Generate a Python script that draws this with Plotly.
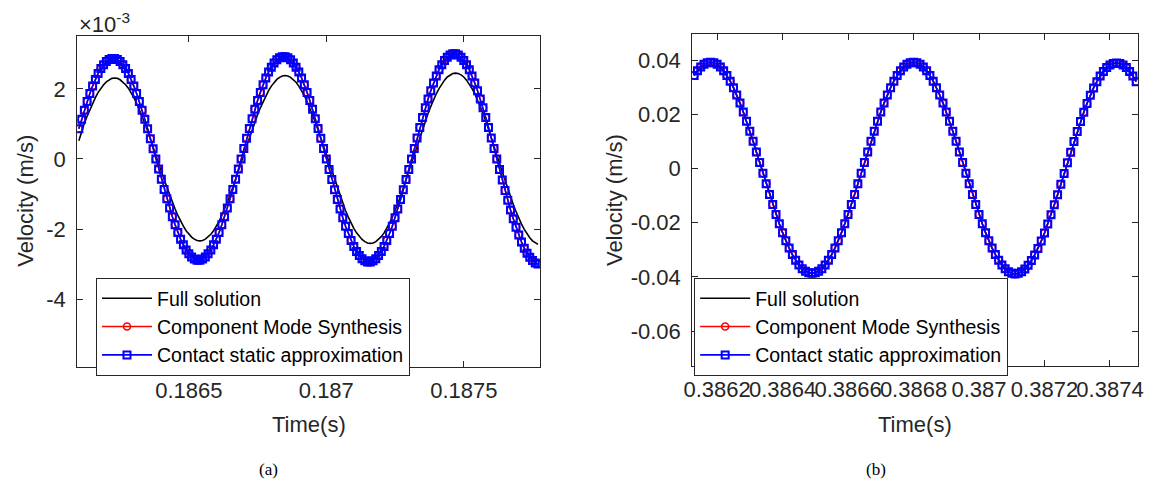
import numpy as np
import plotly.graph_objects as go

# ---------------- data (a): velocity in units of 1e-3 m/s ----------------
t0_a = 0.18610
dt_a = 1e-5
full_a = [0.52, 0.80, 1.02, 1.22, 1.41, 1.59, 1.75, 1.90, 2.02, 2.12,
          2.20, 2.26, 2.30, 2.31, 2.30, 2.26, 2.20, 2.12, 2.02, 1.90,
          1.75, 1.59, 1.41, 1.22, 1.02, 0.80, 0.58, 0.35, 0.12, -0.12,
          -0.35, -0.59, -0.81, -1.03, -1.24, -1.43, -1.61, -1.78, -1.92, -2.05,
          -2.15, -2.23, -2.29, -2.33, -2.34, -2.33, -2.29, -2.23, -2.15, -2.05,
          -1.92, -1.78, -1.61, -1.43, -1.24, -1.03, -0.81, -0.59, -0.35, -0.12,
          0.12, 0.36, 0.60, 0.83, 1.05, 1.26, 1.46, 1.64, 1.81, 1.95,
          2.08, 2.19, 2.27, 2.33, 2.37, 2.38, 2.37, 2.33, 2.27, 2.19,
          2.08, 1.95, 1.81, 1.64, 1.46, 1.26, 1.05, 0.83, 0.60, 0.36,
          0.12, -0.12, -0.37, -0.60, -0.84, -1.06, -1.28, -1.48, -1.66, -1.83,
          -1.98, -2.11, -2.22, -2.30, -2.36, -2.40, -2.41, -2.40, -2.36, -2.30,
          -2.22, -2.11, -1.98, -1.83, -1.66, -1.48, -1.28, -1.06, -0.84, -0.60,
          -0.37, -0.12, 0.12, 0.37, 0.61, 0.85, 1.08, 1.30, 1.50, 1.69,
          1.86, 2.01, 2.14, 2.25, 2.34, 2.40, 2.44, 2.45, 2.44, 2.40,
          2.34, 2.25, 2.14, 2.01, 1.86, 1.69, 1.50, 1.30, 1.08, 0.85,
          0.61, 0.37, 0.12, -0.12, -0.37, -0.61, -0.85, -1.08, -1.30, -1.50,
          -1.69, -1.86, -2.01, -2.14, -2.25, -2.34, -2.40, -2.44]
cms_a = [0.86, 1.13, 1.39, 1.64, 1.87, 2.08, 2.27, 2.44, 2.58, 2.69,
         2.78, 2.84, 2.87, 2.87, 2.84, 2.78, 2.69, 2.58, 2.44, 2.27,
         2.08, 1.87, 1.64, 1.39, 1.13, 0.86, 0.58, 0.29, 0.00, -0.29,
         -0.58, -0.87, -1.14, -1.40, -1.65, -1.88, -2.10, -2.29, -2.45, -2.60,
         -2.71, -2.80, -2.86, -2.89, -2.89, -2.86, -2.80, -2.71, -2.60, -2.45,
         -2.29, -2.10, -1.88, -1.65, -1.40, -1.14, -0.87, -0.58, -0.29, 0.00,
         0.30, 0.59, 0.87, 1.15, 1.42, 1.67, 1.90, 2.12, 2.31, 2.48,
         2.62, 2.74, 2.83, 2.89, 2.92, 2.92, 2.89, 2.83, 2.74, 2.62,
         2.48, 2.31, 2.12, 1.90, 1.67, 1.42, 1.15, 0.87, 0.59, 0.30,
         0.00, -0.30, -0.59, -0.88, -1.16, -1.43, -1.68, -1.92, -2.13, -2.33,
         -2.50, -2.64, -2.76, -2.85, -2.91, -2.94, -2.94, -2.91, -2.85, -2.76,
         -2.64, -2.50, -2.33, -2.13, -1.92, -1.68, -1.43, -1.16, -0.88, -0.59,
         -0.30, 0.00, 0.30, 0.60, 0.90, 1.18, 1.46, 1.71, 1.95, 2.17,
         2.37, 2.55, 2.69, 2.81, 2.90, 2.97, 3.00, 3.00, 2.97, 2.90,
         2.81, 2.69, 2.55, 2.37, 2.17, 1.95, 1.71, 1.46, 1.18, 0.90,
         0.60, 0.30, 0.00, -0.30, -0.60, -0.90, -1.18, -1.46, -1.71, -1.95,
         -2.17, -2.37, -2.55, -2.69, -2.81, -2.90, -2.97, -3.00]
csa_a = list(cms_a)  # contact static approximation overlaps CMS at plot scale

# ---------------- data (b): velocity in units of 1e-3 m/s ----------------
t0_b = 0.38613
dt_b = 1e-5
vel_b = [34.3, 36.0, 37.4, 38.4, 39.0, 39.2, 39.0, 38.4, 37.4, 36.0,
         34.3, 32.2, 29.8, 27.1, 24.1, 20.8, 17.4, 13.7, 10.0, 6.1,
         2.2, -1.8, -5.7, -9.6, -13.3, -17.0, -20.4, -23.7, -26.7, -29.4,
         -31.8, -33.9, -35.6, -37.0, -37.9, -38.5, -38.7, -38.5, -37.9, -37.0,
         -35.6, -33.9, -31.8, -29.4, -26.7, -23.7, -20.4, -17.0, -13.3, -9.6,
         -5.7, -1.8, 2.2, 6.1, 10.0, 13.7, 17.4, 20.8, 24.1, 27.1,
         29.8, 32.2, 34.3, 36.0, 37.4, 38.4, 39.0, 39.2,
         39.0, 38.4, 37.4, 36.0, 34.3, 32.2, 29.8, 27.1, 24.1, 20.8,
         17.4, 13.7, 10.0, 6.1, 2.2, -1.8, -5.7, -9.6, -13.3, -17.0,
         -20.4, -23.7, -26.7, -29.4, -31.8, -33.9, -35.6, -37.0, -38.1, -38.7,
         -39.0,
         -38.7, -38.1, -37.1, -35.7, -34.0, -31.9, -29.5, -26.8, -23.8,
         -20.5, -17.1, -13.4, -9.7, -5.8, -1.9, 2.1, 6.0, 9.9, 13.6,
         17.3, 20.7, 24.0, 27.0, 29.7, 32.0, 34.1, 35.8, 37.2, 38.2,
         38.7, 38.9,
         38.7, 38.2, 37.2, 35.8, 34.1, 32.0]
full_b = list(vel_b)
cms_b = list(vel_b)
csa_b = list(vel_b)

series_names = ["Full solution", "Component Mode Synthesis", "Contact static approximation"]

xticks_a = [0.1865, 0.187, 0.1875]
xtext_a = ["0.1865", "0.187", "0.1875"]
yticks_a = [-4, -2, 0, 2]
ytext_a = ["-4", "-2", "0", "2"]
xticks_b = [0.3862, 0.3864, 0.3866, 0.3868, 0.3870, 0.3872, 0.3874]
xtext_b = ["0.3862", "0.3864", "0.3866", "0.3868", "0.387", "0.3872", "0.3874"]
yticks_b = [-0.06, -0.04, -0.02, 0.0, 0.02, 0.04]
ytext_b = ["-0.06", "-0.04", "-0.02", "0", "0.02", "0.04"]

# ---------------- figure ----------------
W, H = 1154, 484
t_a = np.round(t0_a + dt_a * np.arange(len(cms_a)), 7)
t_b = np.round(t0_b + dt_b * np.arange(len(vel_b)), 7)

FONT = "Liberation Sans, Arial, Helvetica, sans-serif"
SERIF = "Liberation Serif, Times New Roman, serif"
AX = "#262626"

fig = go.Figure()

def add_set(t, full, cms, csa, xa, ya, leg, scale):
    fig.add_trace(go.Scatter(x=t, y=np.array(full) * scale, mode="lines", name=series_names[0],
                             line=dict(color="black", width=1.6), xaxis=xa, yaxis=ya, legend=leg))
    fig.add_trace(go.Scatter(x=t, y=np.array(cms) * scale, mode="lines+markers", name=series_names[1],
                             line=dict(color="#ff0000", width=1.6),
                             marker=dict(symbol="circle-open", size=7, color="#ff0000", line=dict(width=1.6)),
                             xaxis=xa, yaxis=ya, legend=leg))
    fig.add_trace(go.Scatter(x=t, y=np.array(csa) * scale, mode="lines+markers", name=series_names[2],
                             line=dict(color="#0000ff", width=1.6),
                             marker=dict(symbol="square-open", size=7, color="#0000ff", line=dict(width=2)),
                             xaxis=xa, yaxis=ya, legend=leg))

add_set(t_a, full_a, cms_a, csa_a, "x", "y", "legend", 1.0)
add_set(t_b, full_b, cms_b, csa_b, "x2", "y2", "legend2", 1e-3)

axis_common = dict(showline=True, linecolor=AX, linewidth=1, mirror="ticks", ticks="inside",
                   ticklen=6, tickcolor=AX, tickwidth=1, showgrid=False, zeroline=False,
                   tickangle=0, tickfont=dict(family=FONT, size=22, color=AX))

legend_common = dict(xanchor="left", yanchor="top", bgcolor="white", bordercolor=AX, borderwidth=1,
                     font=dict(family=FONT, size=19.5, color="black"), tracegroupgap=0, itemwidth=50)

fig.update_layout(
    width=W, height=H, autosize=False,
    margin=dict(l=0, r=0, t=0, b=0),
    paper_bgcolor="white", plot_bgcolor="white",
    xaxis=dict(domain=[70 / W, 538 / W], range=[0.186094, 0.187777], anchor="y",
               tickmode="array", tickvals=xticks_a, ticktext=xtext_a, ticklabelstandoff=4, **axis_common),
    yaxis=dict(domain=[1 - 367 / H, 1 - 36 / H], range=[-5.94, 3.51], anchor="x",
               tickmode="array", tickvals=yticks_a, ticktext=ytext_a, ticklabelstandoff=6, **axis_common),
    xaxis2=dict(domain=[692 / W, 1143 / W], range=[0.386124, 0.387486], anchor="y2",
                tickmode="array", tickvals=xticks_b, ticktext=xtext_b, ticklabelstandoff=4, **axis_common),
    yaxis2=dict(domain=[1 - 366 / H, 1 - 34 / H], range=[-0.0729, 0.0496], anchor="x2",
                tickmode="array", tickvals=yticks_b, ticktext=ytext_b, ticklabelstandoff=6, **axis_common),
    legend=dict(x=89 / W, y=1 - 278 / H, **legend_common),
    legend2=dict(x=694 / W, y=1 - 278 / H, **legend_common),
    showlegend=True,
)

ann_font = dict(family=FONT, size=22, color=AX)
annotations = [
    dict(text="Velocity (m/s)", x=17 / W, y=1 - 201 / H, textangle=-90, font=ann_font),
    dict(text="Velocity (m/s)", x=614 / W, y=1 - 200 / H, textangle=-90, font=ann_font),
    dict(text="Time(s)", x=304 / W, y=1 - 424 / H, font=ann_font),
    dict(text="Time(s)", x=917 / W, y=1 - 424 / H, font=ann_font),
    dict(text="×10<sup>-3</sup>", x=70 / W, y=1 - 23 / H, xanchor="left", font=ann_font),
    dict(text="(a)", x=263 / W, y=1 - 469 / H, font=dict(family=SERIF, size=17, color="black")),
    dict(text="(b)", x=878 / W, y=1 - 469 / H, font=dict(family=SERIF, size=17, color="black")),
]
for a in annotations:
    a.update(xref="paper", yref="paper", showarrow=False)
    if "xanchor" not in a:
        a["xanchor"] = "center"
    a["yanchor"] = "middle"
fig.update_layout(annotations=annotations)

fig.write_html("out.html")
